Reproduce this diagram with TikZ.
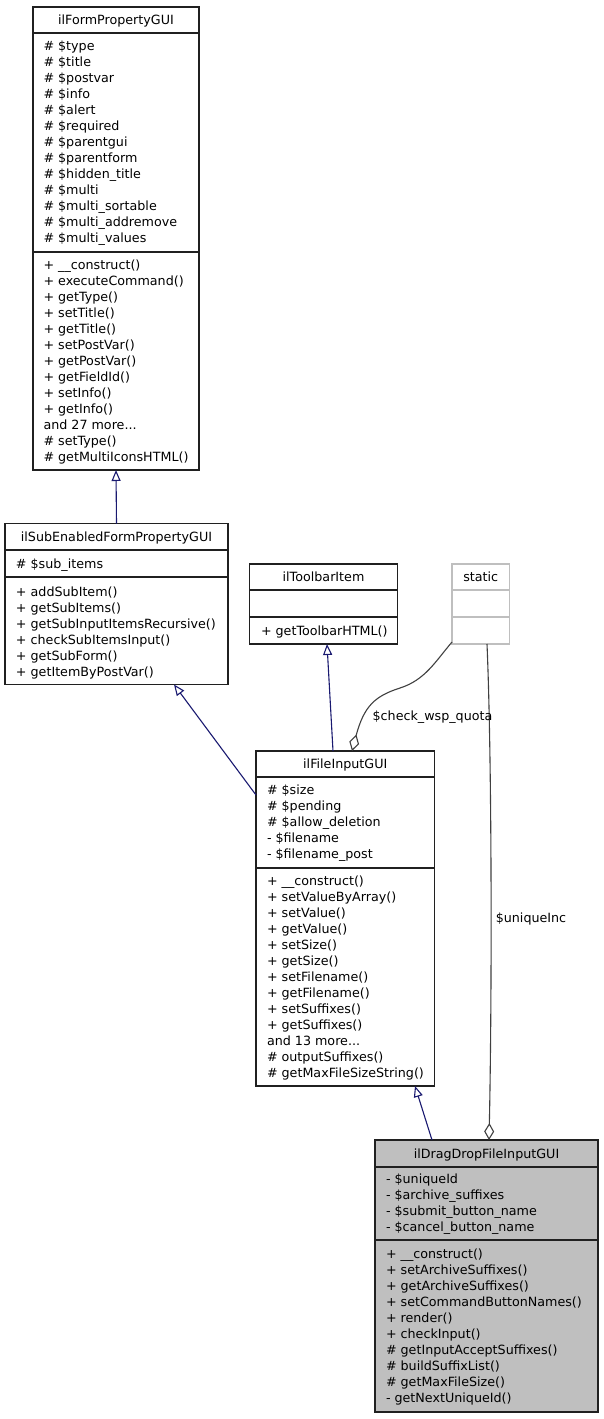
\documentclass[tikz,border=0pt]{standalone}
\usepackage{fontspec}
\setmainfont{DejaVu Sans}
\usetikzlibrary{arrows.meta,calc}
\definecolor{edgeblue}{HTML}{191970}
\definecolor{aggr}{HTML}{404040}
\definecolor{boxgray}{HTML}{BFBFBF}
\definecolor{statgray}{HTML}{BFBFBF}
\definecolor{boxline}{HTML}{202020}
\newcommand\tdots{...}
\begin{document}
\begin{tikzpicture}[x=1pt,y=-1pt,
 every node/.style={font=\fontsize{12.7}{16}\selectfont, inner sep=0pt, outer sep=0pt},
 txt/.style={anchor=base west},
 ttl/.style={anchor=base},
 umlbox/.style={draw=boxline, line width=1.3pt, rectangle, inner sep=0pt, anchor=north west},
 divline/.style={draw=boxline, line width=1.3pt},
 inherit/.style={draw=edgeblue, line width=1.1pt, -{Triangle[open,length=11pt,width=9pt]}},
 aggreg/.style={draw=aggr, line width=1.1pt, -{Diamond[open,length=17pt,width=10pt]}},
 lbl/.style={anchor=center}
]
\useasboundingbox[fill=white] (0,0) rectangle (603,1419);

% ---------- A: ilFormPropertyGUI
\node[umlbox, minimum width=166pt, minimum height=463pt] (A) at (33,7) {};
\draw[divline] (A.west |- 0,33) -- (A.east |- 0,33);
\draw[divline] (A.west |- 0,252) -- (A.east |- 0,252);
\node[ttl] (A-t) at (116,24.5) {ilFormPropertyGUI};
\foreach \t [count=\i from 0] in {\# \$type,\# \$title,\# \$postvar,\# \$info,\# \$alert,\# \$required,\# \$parentgui,\# \$parentform,\# \$hidden\_title,\# \$multi,\# \$multi\_sortable,\# \$multi\_addremove,\# \$multi\_values}
  \node[txt] (A-a\i) at (43.5,50.5+16*\i) {\t};
\foreach \t [count=\i from 0] in {+ \_\_construct(),+ executeCommand(),+ getType(),+ setTitle(),+ getTitle(),+ setPostVar(),+ getPostVar(),+ getFieldId(),+ setInfo(),+ getInfo(),and 27 more\tdots,\# setType(),\# getMultiIconsHTML()}
  \node[txt] (A-m\i) at (43.5,269.5+16*\i) {\t};

% ---------- B: ilSubEnabledFormPropertyGUI
\node[umlbox, minimum width=223pt, minimum height=161pt] (B) at (5,523.5) {};
\draw[divline] (B.west |- 0,550) -- (B.east |- 0,550);
\draw[divline] (B.west |- 0,577) -- (B.east |- 0,577);
\node[ttl] (B-t) at (116.5,541) {ilSubEnabledFormPropertyGUI};
\node[txt] (B-a0) at (16,568.5) {\# \$sub\_items};
\foreach \t [count=\i from 0] in {+ addSubItem(),+ getSubItems(),+ getSubInputItemsRecursive(),+ checkSubItemsInput(),+ getSubForm(),+ getItemByPostVar()}
  \node[txt] (B-m\i) at (16,596.5+16*\i) {\t};

% ---------- C: ilToolbarItem
\node[umlbox, minimum width=148pt, minimum height=80pt] (C) at (249.5,564) {};
\draw[divline] (C.west |- 0,590) -- (C.east |- 0,590);
\draw[divline] (C.west |- 0,617) -- (C.east |- 0,617);
\node[ttl] (C-t) at (323.5,581) {ilToolbarItem};
\node[txt] (C-m0) at (261,635.5) {+ getToolbarHTML()};

% ---------- D: static
\node[umlbox, draw=statgray, minimum width=57.5pt, minimum height=80pt] (D) at (452,564) {};
\draw[divline, draw=statgray] (D.west |- 0,590) -- (D.east |- 0,590);
\draw[divline, draw=statgray] (D.west |- 0,617) -- (D.east |- 0,617);
\node[ttl] (D-t) at (480.75,581) {static};

% ---------- E: ilFileInputGUI
\node[umlbox, minimum width=178.5pt, minimum height=335pt] (E) at (256,751) {};
\draw[divline] (E.west |- 0,777) -- (E.east |- 0,777);
\draw[divline] (E.west |- 0,868) -- (E.east |- 0,868);
\node[ttl] (E-t) at (345.25,768.5) {ilFileInputGUI};
\foreach \t [count=\i from 0] in {\# \$size,\# \$pending,\# \$allow\_deletion,- \$filename,- \$filename\_post}
  \node[txt] (E-a\i) at (267,794.5+16*\i) {\t};
\foreach \t [count=\i from 0] in {+ \_\_construct(),+ setValueByArray(),+ setValue(),+ getValue(),+ setSize(),+ getSize(),+ setFilename(),+ getFilename(),+ setSuffixes(),+ getSuffixes(),and 13 more\tdots,\# outputSuffixes(),\# getMaxFileSizeString()}
  \node[txt] (E-m\i) at (267,885.5+16*\i) {\t};

% ---------- F: ilDragDropFileInputGUI
\node[umlbox, fill=boxgray, minimum width=223pt, minimum height=272pt] (F) at (375,1140) {};
\draw[divline] (F.west |- 0,1167) -- (F.east |- 0,1167);
\draw[divline] (F.west |- 0,1240) -- (F.east |- 0,1240);
\node[ttl] (F-t) at (486.5,1158) {ilDragDropFileInputGUI};
\foreach \t [count=\i from 0] in {- \$uniqueId,- \$archive\_suffixes,- \$submit\_button\_name,- \$cancel\_button\_name}
  \node[txt] (F-a\i) at (386,1183.5+16*\i) {\t};
\foreach \t [count=\i from 0] in {+ \_\_construct(),+ setArchiveSuffixes(),+ getArchiveSuffixes(),+ setCommandButtonNames(),+ render(),+ checkInput(),\# getInputAcceptSuffixes(),\# buildSuffixList(),\# getMaxFileSize(),- getNextUniqueId()}
  \node[txt] (F-m\i) at (386,1258.5+16*\i) {\t};

% ---------- connectors
\draw[inherit] (B.north) -- (A.south);
\draw[inherit] ($(E.north west)+(0,44)$) -- ($(B.south west)+(169,0)$);
\draw[inherit] ($(E.north west)+(77,0)$) -- ($(C.south west)+(77.5,0)$);
\draw[inherit] ($(F.north west)+(57,0)$) -- ($(E.south west)+(159,0)$);
\draw[aggreg] ($(D.south west)+(0,-2)$) .. controls (435,662) and (425,680) .. (400,688)
   .. controls (375,696) and (364,706) .. ($(E.north west)+(96,0)$);
\draw[aggreg] ($(D.south west)+(35,0)$) .. controls (492,760) and (492,1000) .. ($(F.north west)+(114,0)$);
\node[lbl] (l1) at (432.5,717) {\$check\_wsp\_quota};
\node[lbl] (l2) at (531,919) {\$uniqueInc};
\end{tikzpicture}
\end{document}
